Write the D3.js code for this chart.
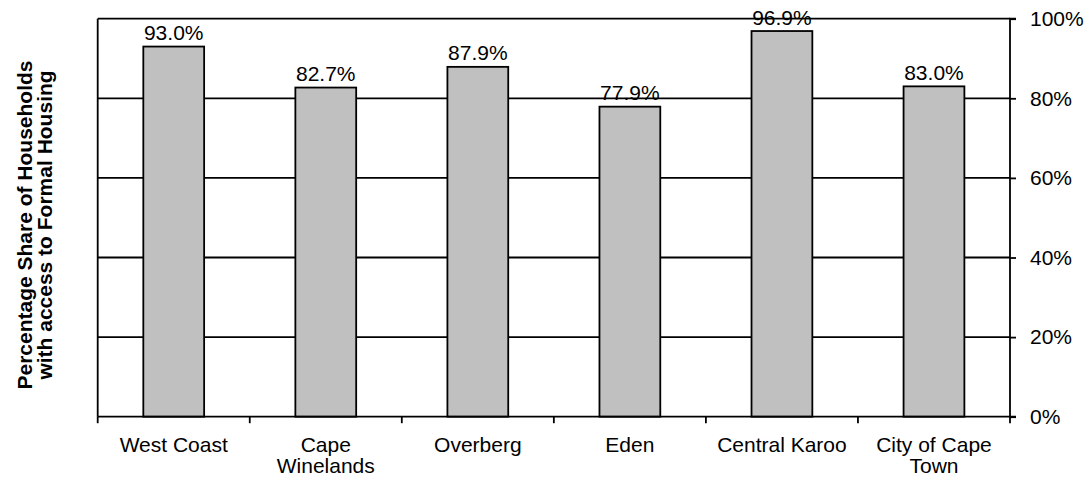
<!DOCTYPE html>
<html>
<head>
<meta charset="utf-8">
<script src="https://cdn.jsdelivr.net/npm/d3@7"></script>
<style>
  html, body { margin: 0; padding: 0; background: #fff; }
  svg { display: block; font-family: Arial, "Liberation Sans", sans-serif; }
</style>
</head>
<body>
<svg id="chart" width="1090" height="478"></svg>
<script>
const categories = ["West Coast", "Cape Winelands", "Overberg", "Eden", "Central Karoo", "City of Cape Town"];
const categoryLines = [["West Coast"], ["Cape", "Winelands"], ["Overberg"], ["Eden"], ["Central Karoo"], ["City of Cape", "Town"]];
const values = [93.0, 82.7, 87.9, 77.9, 96.9, 83.0];
const yTicks = [0, 20, 40, 60, 80, 100];
const yTitleLines = ["Percentage Share of Households", "with access to Formal Housing"];

const svg = d3.select("#chart");
const pLeft = 97.7, pRight = 1010, pTop = 18.7, pBottom = 416.7;
const FS = 21;

const x = d3.scaleBand().domain(categories).range([pLeft, pRight]).paddingInner(0.6).paddingOuter(0.3);
const xOuter = d3.scaleBand().domain(categories).range([pLeft, pRight]);
const y = d3.scaleLinear().domain([0, 100]).range([pBottom, pTop]);

// gridlines
svg.append("g").selectAll("line").data(yTicks.filter(d => d > 0)).join("line")
  .attr("x1", pLeft).attr("x2", pRight)
  .attr("y1", d => y(d)).attr("y2", d => y(d))
  .attr("stroke", "#000").attr("stroke-width", 1.8);

// left border
svg.append("line").attr("x1", pLeft).attr("x2", pLeft).attr("y1", pTop).attr("y2", pBottom)
  .attr("stroke", "#000").attr("stroke-width", 1.8);

// bars
svg.append("g").selectAll("rect").data(values).join("rect")
  .attr("x", (d, i) => x(categories[i]))
  .attr("width", x.bandwidth())
  .attr("y", d => y(d))
  .attr("height", d => pBottom - y(d))
  .attr("fill", "#c0c0c0").attr("stroke", "#000").attr("stroke-width", 1.8);

// value labels
svg.append("g").selectAll("text").data(values).join("text")
  .attr("x", (d, i) => x(categories[i]) + x.bandwidth() / 2)
  .attr("y", d => y(d) - 6.5)
  .attr("text-anchor", "middle").attr("font-size", FS).attr("fill", "#000")
  .text(d => d.toFixed(1) + "%");

// right axis
const yAxis = d3.axisRight(y).tickValues(yTicks).tickFormat(d => d + "%").tickSize(6).tickPadding(14);
const ga = svg.append("g").attr("transform", `translate(${pRight},0)`).call(yAxis);
ga.select(".domain").attr("stroke", "#000").attr("stroke-width", 1.8).attr("d", `M6,${pTop}H0V${pBottom}H6`);
ga.selectAll(".tick line").attr("stroke", "#000").attr("stroke-width", 1.8);
ga.selectAll(".tick text").attr("font-size", FS).attr("fill", "#000").attr("font-family", "Arial, 'Liberation Sans', sans-serif");

// bottom axis
const xAxis = d3.axisBottom(xOuter).tickSize(0).tickFormat("");
const gx = svg.append("g").attr("transform", `translate(0,${pBottom})`).call(xAxis);
gx.select(".domain").attr("stroke", "#000").attr("stroke-width", 1.8).attr("d", `M${pLeft},0H${pRight}`);
const boundaries = d3.range(categories.length + 1).map(i => pLeft + i * xOuter.step());
gx.append("g").selectAll("line").data(boundaries).join("line")
  .attr("x1", d => d).attr("x2", d => d).attr("y1", 0).attr("y2", 6.5)
  .attr("stroke", "#000").attr("stroke-width", 1.8);

// category labels
const cl = svg.append("g").selectAll("text").data(categories).join("text")
  .attr("x", d => xOuter(d) + xOuter.bandwidth() / 2)
  .attr("y", pBottom + 35)
  .attr("text-anchor", "middle").attr("font-size", FS).attr("fill", "#000");
cl.each(function(d, i) {
  d3.select(this).selectAll("tspan").data(categoryLines[i]).join("tspan")
    .attr("x", xOuter(d) + xOuter.bandwidth() / 2)
    .attr("dy", (t, j) => j === 0 ? 0 : 21.5)
    .text(t => t);
});

// y title
const yt = svg.append("text")
  .attr("transform", `translate(0,225) rotate(-90)`)
  .attr("text-anchor", "middle").attr("font-size", FS).attr("font-weight", "bold").attr("fill", "#000");
yt.selectAll("tspan").data(yTitleLines).join("tspan")
  .attr("x", 0).attr("y", (d, i) => 31.7 + i * 20)
  .text(d => d);
</script>
</body>
</html>
